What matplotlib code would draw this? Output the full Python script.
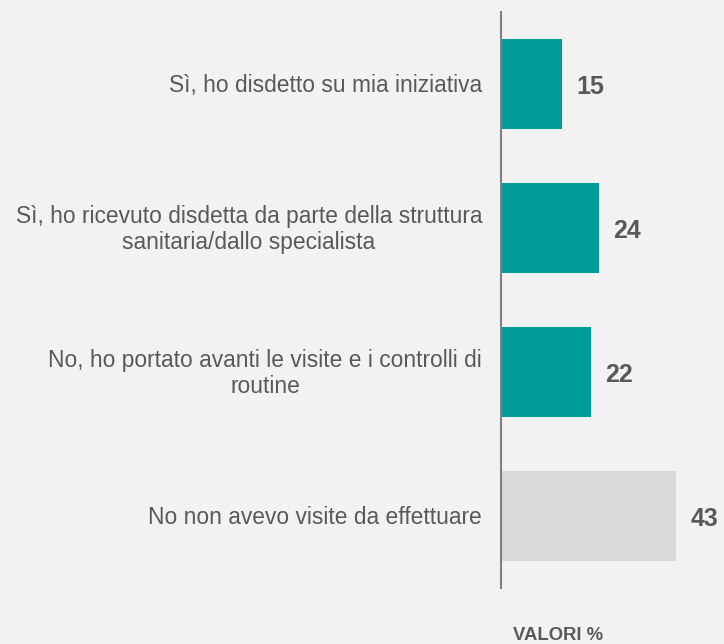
import matplotlib
matplotlib.use("Agg")
import matplotlib.pyplot as plt

categories = [
    "Sì, ho disdetto su mia iniziativa",
    "Sì, ho ricevuto disdetta da parte della struttura\nsanitaria/dallo specialista",
    "No, ho portato avanti le visite e i controlli di\nroutine",
    "No non avevo visite da effettuare",
]
values = [15, 24, 22, 43]
colors = ["#009c97", "#009c97", "#009c97", "#d9d9d9"]

BG = "#f2f2f2"
TXT = "#595959"

plt.rcParams["font.family"] = ["Liberation Sans", "DejaVu Sans"]

W, H = 724, 644
fig = plt.figure(figsize=(W / 100, H / 100), dpi=100, facecolor=BG)
ax = fig.add_axes([501 / W, (H - 588) / H, 223 / W, 576 / H])
ax.set_facecolor(BG)

ypos = list(range(len(categories)))
ax.barh(ypos, values, height=0.625, color=colors, left=0)
ax.set_ylim(len(categories) - 0.5, -0.5)
ax.set_xlim(0, 54.7)

# value labels to the right of each bar
for y, v in zip(ypos, values):
    ax.text(v + 3.6, y + 0.02, str(v), ha="left", va="center",
            fontsize=18, fontweight="bold", color=TXT)

# category labels, right-aligned next to the axis line
for y, lab in zip(ypos, categories):
    ax.text(-19 / 4.08, y + 0.01, lab, ha="right", va="center", multialignment="center",
            fontsize=16.4, color=TXT, linespacing=1.17)

for s in ["top", "right", "bottom"]:
    ax.spines[s].set_visible(False)
ax.spines["left"].set_color("#7f7f7f")
ax.spines["left"].set_linewidth(1.5)
ax.set_xticks([])
ax.set_yticks([])

fig.text(558 / W, 1 - 635 / H, "VALORI %", ha="center", va="center",
         fontsize=13.3, fontweight="bold", color=TXT)

fig.savefig("out.png", dpi=100, facecolor=BG)
